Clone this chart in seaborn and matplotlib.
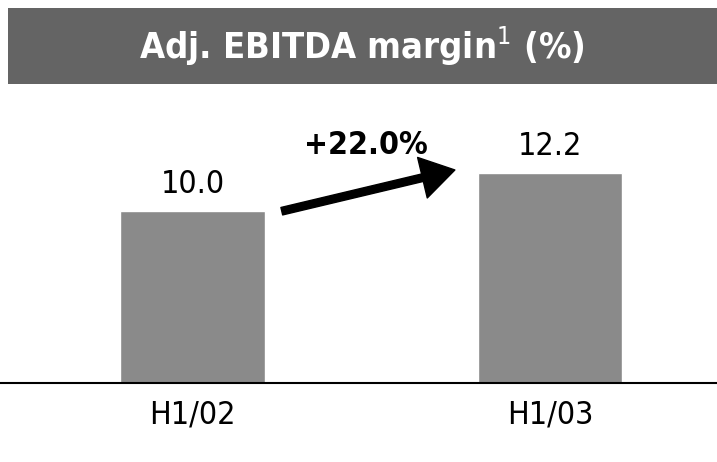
import matplotlib
matplotlib.use("Agg")
import matplotlib.pyplot as plt
import seaborn as sns
import pandas as pd
from matplotlib.patches import Rectangle

periods = ['H1/02', 'H1/03']
margin = [10.0, 12.2]
growth_label = '+22.0%'
title = 'Adj. EBITDA margin$^1$ (%)'

sns.set_style('white')
plt.rcParams['font.family'] = ['DejaVu Sans']
plt.rcParams['font.stretch'] = 'condensed'
plt.rcParams['mathtext.fontset'] = 'custom'
plt.rcParams['mathtext.rm'] = 'DejaVu Sans:stretch=condensed'
plt.rcParams['text.color'] = 'black'

df = pd.DataFrame({'period': periods, 'margin': margin})

fig = plt.figure(figsize=(7.17, 4.62), dpi=100)
ax = fig.add_axes([0, 0.171, 1, 0.647])

sns.barplot(data=df, x='period', y='margin', color='#8a8a8a', width=0.405,
            saturation=1, ax=ax)

ax.set_xlim(-0.538, 1.467)
ax.set_ylim(0, 17.4)
ax.set_xlabel('')
ax.set_ylabel('')
ax.set_yticks([])
ax.tick_params(axis='x', length=0, pad=12, labelsize=23, labelcolor='black')
for s in ['top', 'left', 'right']:
    ax.spines[s].set_visible(False)
ax.spines['bottom'].set_linewidth(1.5)
ax.spines['bottom'].set_color('black')

for i, v in enumerate(margin):
    ax.annotate(f'{v:.1f}', xy=(i, v), xytext=(0, 8), textcoords='offset points',
                ha='center', va='bottom', fontsize=23)

# growth arrow between bars
ax.annotate('', xy=(0.734, margin[1] + 0.2), xytext=(0.25, margin[0]),
            arrowprops=dict(width=5.5, headwidth=30, headlength=24,
                            facecolor='black', edgecolor='black',
                            shrink=0))
ax.text(0.485, 13.8, growth_label, ha='center', va='center',
        fontsize=23, fontweight='bold')

# header band
fig.patches.append(Rectangle((0.011, 0.818), 0.989, 0.165, transform=fig.transFigure,
                             facecolor='#646464', edgecolor='none'))
fig.text(0.505, 0.9, title, ha='center', va='center', color='white',
         fontsize=26, fontweight='bold')

fig.savefig('out.png', dpi=100)
